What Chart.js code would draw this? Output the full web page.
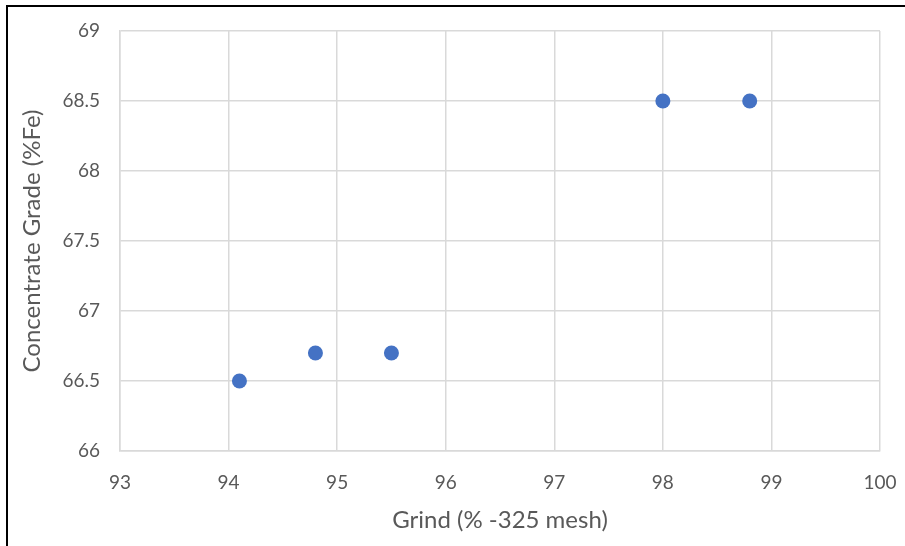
<!DOCTYPE html>
<html>
<head>
<meta charset="utf-8">
<script src="https://cdn.jsdelivr.net/npm/chart.js@4/dist/chart.umd.min.js"></script>
<style>
  html, body { margin: 0; padding: 0; background: #fff; }
  #wrap { position: relative; width: 905px; height: 546px; }
  #frame { position: absolute; left: 6px; top: 5px; right: 0; bottom: 0; border-top: 2px solid #000; border-left: 2px solid #000; pointer-events: none; }
  canvas { position: absolute; left: 0; top: 0; }
</style>
</head>
<body>
<div id="wrap">
  <canvas id="c" width="905" height="546"></canvas>
  <div id="frame"></div>
</div>
<script>
const grind = [94.1, 94.8, 95.5, 98.0, 98.8];
const grade = [66.5, 66.7, 66.7, 68.5, 68.5];
const xTitle = 'Grind (% -325 mesh)';
const yTitle = 'Concentrate Grade (%Fe)';

const FONT = 'Lato';
const tickColor = '#595959';
const gridColor = '#d9d9d9';

new Chart(document.getElementById('c'), {
  type: 'scatter',
  data: {
    datasets: [{
      data: grind.map((x, i) => ({ x: x, y: grade[i] })),
      backgroundColor: '#4472C4',
      borderColor: '#4472C4',
      pointRadius: 7.5,
      pointHoverRadius: 7.5,
      borderWidth: 0
    }]
  },
  options: {
    responsive: false,
    animation: false,
    plugins: { legend: { display: false }, tooltip: { enabled: false } },
    layout: { padding: { left: 10, top: 31, right: 25, bottom: 0 } },
    scales: {
      x: {
        type: 'linear', min: 93, max: 100,
        ticks: { stepSize: 1, color: tickColor, font: { family: FONT, size: 19 }, padding: 20 },
        grid: { color: gridColor, lineWidth: 1.5, drawTicks: false },
        border: { color: gridColor, width: 1.5 },
        title: { display: true, text: xTitle, color: tickColor, font: { family: FONT, size: 24 }, padding: { top: 0, bottom: 11 } },
        afterFit: s => { s.height = 95; s.paddingLeft = 0; s.paddingRight = 0; }
      },
      y: {
        type: 'linear', min: 66, max: 69,
        ticks: { stepSize: 0.5, color: tickColor, font: { family: FONT, size: 19 }, padding: 20,
                 callback: v => String(+v.toFixed(1)) },
        grid: { color: gridColor, lineWidth: 1.5, drawTicks: false },
        border: { color: gridColor, width: 1.5 },
        title: { display: true, text: yTitle, color: tickColor, font: { family: FONT, size: 24 }, padding: { top: 8, bottom: 0 } },
        afterFit: s => { s.width = 110; s.paddingTop = 0; s.paddingBottom = 0; }
      }
    }
  }
});
</script>
</body>
</html>
